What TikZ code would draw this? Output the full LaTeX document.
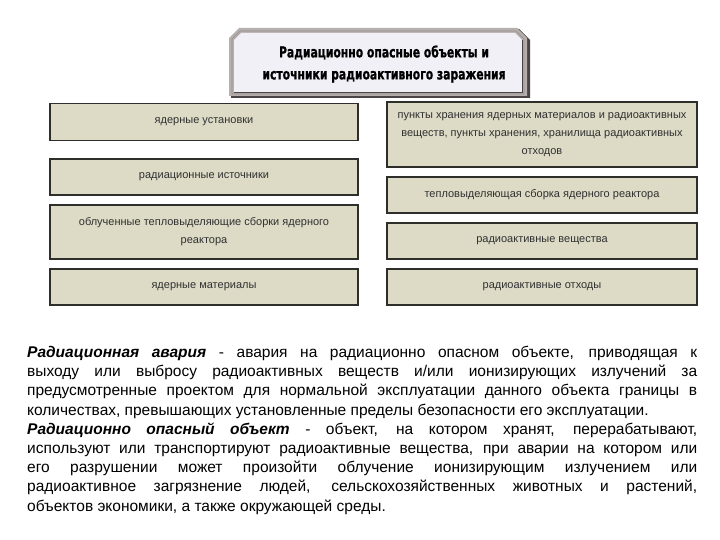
\documentclass[tikz,border=0pt]{standalone}
\usepackage{fontspec}
\setmainfont{Liberation Sans}
\newfontfamily\titlefont{DejaVu Sans}[BoldFeatures={FakeBold=1.2}]
\definecolor{boxfill}{HTML}{DDDAC6}
\definecolor{boxline}{HTML}{2E2E2A}
\definecolor{boxtext}{HTML}{303030}
\definecolor{titlefill}{HTML}{F1F0F6}
\definecolor{titleframe}{HTML}{B7AFAD}
\definecolor{titledark}{HTML}{4A4446}
\tikzset{
  itembox/.style={draw=boxline, line width=1.6pt, fill=boxfill, text=boxtext,
    font=\fontsize{11}{18}\selectfont, align=center, inner sep=0pt},
}
\begin{document}
\begin{tikzpicture}[x=1pt,y=-1pt]
\useasboundingbox (0,0) rectangle (720,540);
\fill[white] (0,0) rectangle (720,540);
% title frame
\fill[titledark] (231,98) -- (231,39) -- (241,29) -- (519,29) -- (530,40) -- (530,98) -- cycle;
\fill[titleframe] (229,96) -- (229,38) -- (239,28) -- (517,28) -- (527,38) -- (527,96) -- cycle;
\draw[titledark!60, line width=0.6pt] (232,94) -- (232,39) -- (240,31) -- (516,31) -- (524,39) -- (524,94) -- cycle;
\fill[titlefill] (234,93) -- (234,40) -- (241,33) -- (515,33) -- (522,40) -- (522,93) -- cycle;
\draw[titledark, line width=1pt] (522,40) -- (522,93) -- (234,93);
\node[font=\titlefont\bfseries\fontsize{15}{22}\selectfont, align=center, text=black] (title) at (384,64)
  {\scalebox{0.72}[1]{Радиационно опасные объекты и}\\\scalebox{0.72}[1]{источники радиоактивного заражения}};
% left boxes
\node[itembox, minimum width=308pt, minimum height=37pt] (l1) at (204,122) {ядерные установки};
\node[itembox, minimum width=308pt, minimum height=36pt] (l2) at (204,177) {радиационные источники};
\node[itembox, minimum width=308pt, minimum height=54pt] (l3) at (204,232) {облученные тепловыделяющие сборки ядерного\\реактора};
\node[itembox, minimum width=308pt, minimum height=36pt] (l4) at (204,287) {ядерные материалы};
% right boxes
\node[itembox, minimum width=310pt, minimum height=65pt] (r1) at (542,134.5) {пункты хранения ядерных материалов и радиоактивных\\веществ, пункты хранения, хранилища радиоактивных\\отходов};
\node[itembox, minimum width=310pt, minimum height=36pt] (r2) at (542,195) {тепловыделяющая сборка ядерного реактора};
\node[itembox, minimum width=310pt, minimum height=36pt] (r3) at (542,241) {радиоактивные вещества};
\node[itembox, minimum width=310pt, minimum height=36pt] (r4) at (542,287) {радиоактивные отходы};
% definitions
\node[anchor=north west, inner sep=0pt, text width=670pt, align=justify,
  font=\fontsize{15.5}{19.2}\selectfont] (defs) at (27,346)
{\textbf{\textit{Радиационная авария}} - авария на радиационно опасном объекте, приводящая к\linebreak
выходу или выбросу радиоактивных веществ и/или ионизирующих излучений за\linebreak
предусмотренные проектом для нормальной эксплуатации данного объекта границы в\linebreak
количествах, превышающих установленные пределы безопасности его эксплуатации.\par
\textbf{\textit{Радиационно опасный объект}} - объект, на котором хранят, перерабатывают,\linebreak
используют или транспортируют радиоактивные вещества, при аварии на котором или\linebreak
его разрушении может произойти облучение ионизирующим излучением или\linebreak
радиоактивное загрязнение людей, сельскохозяйственных животных и растений,\linebreak
объектов экономики, а также окружающей среды.};
\end{tikzpicture}
\end{document}
